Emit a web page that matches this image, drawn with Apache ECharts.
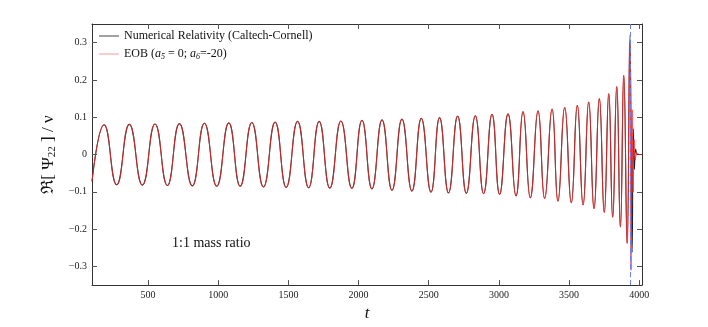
<!DOCTYPE html>
<html>
<head>
<meta charset="utf-8">
<script src="https://cdn.jsdelivr.net/npm/echarts@6/dist/echarts.min.js"></script>
<style>
  html, body { margin: 0; padding: 0; background: #fff; }
  #chart { width: 708px; height: 327px; }
</style>
</head>
<body>
<div id="chart"></div>
<script>
// inspiral part, both curves lie on top of each other here (peaks / troughs)
var inspiralT = [100, 186, 276, 366, 459, 549, 637, 723, 815, 901, 989, 1075, 1156, 1239, 1322, 1405, 1484, 1565, 1644, 1719,
    1795, 1874, 1952, 2024, 2095, 2167, 2238, 2309, 2380, 2447, 2516, 2577, 2641, 2706, 2768, 2832, 2891, 2951, 3005, 3065,
    3122, 3172, 3224, 3279, 3326, 3379, 3421, 3469, 3516, 3559, 3600, 3640, 3678, 3716, 3751, 3783, 3811, 3840, 3866];
var inspiralV = [-0.072, 0.080, -0.081, 0.081, -0.082, 0.082, -0.083, 0.083, -0.084, 0.084, -0.085, 0.085, -0.085, 0.086, -0.087, 0.087, -0.088, 0.089, -0.089, 0.089,
    -0.090, 0.090, -0.091, 0.092, -0.092, 0.093, -0.096, 0.095, -0.098, 0.097, -0.101, 0.099, -0.103, 0.103, -0.104, 0.104, -0.105, 0.108, -0.107, 0.109,
    -0.111, 0.115, -0.116, 0.117, -0.118, 0.122, -0.125, 0.126, -0.129, 0.132, -0.135, 0.141, -0.145, 0.150, -0.155, 0.163, -0.168, 0.182, -0.194];

// merger + ringdown
var nrMergerT = [3890, 3914, 3934, 3950, 3958, 3966, 3975, 3988, 4020];
var nrMergerV = [0.212, -0.238, 0.320, -0.262, 0.070, -0.040, 0.015, 0, 0];
var eobMergerT = [3890, 3914, 3932, 3942, 3950, 3957, 3964, 3972, 3985, 4000, 4020];
var eobMergerV = [0.212, -0.238, 0.300, -0.310, 0.120, -0.100, 0.040, -0.015, 0.005, 0, 0];

var peakTime = 3938;   // blue dashed line
var xTicks = [500, 1000, 1500, 2000, 2500, 3000, 3500, 4000];
var yTicks = [-0.3, -0.2, -0.1, 0, 0.1, 0.2, 0.3];

function makePairs(t1, v1, t2, v2) {
    var out = [];
    for (var i = 0; i < t1.length; i++) out.push([t1[i], v1[i]]);
    for (var j = 0; j < t2.length; j++) out.push([t2[j], v2[j]]);
    return out;
}

var serif = "'Liberation Serif', 'DejaVu Serif', serif";
var axisCol = '#333';

var myChart = echarts.init(document.getElementById('chart'));

function xAx(pos, showLabel) {
    return {
        type: 'value', position: pos, min: 100, max: 4020,
        axisLine: {show: true, onZero: false, lineStyle: {color: axisCol, width: 1}},
        axisTick: {show: true, inside: true, length: 5, customValues: xTicks, lineStyle: {color: '#555'}},
        axisLabel: {show: showLabel, customValues: xTicks, fontFamily: serif, fontSize: 10, color: '#222', margin: 5,
            formatter: function (v) { return '' + v; }},
        splitLine: {show: false},
        name: showLabel ? 't' : '', nameLocation: 'middle', nameGap: 18,
        nameTextStyle: {fontFamily: serif, fontStyle: 'italic', fontSize: 17, color: '#111'}
    };
}

function yAx(pos, showLabel) {
    return {
        type: 'value', position: pos, min: -0.35, max: 0.35,
        axisLine: {show: true, onZero: false, lineStyle: {color: axisCol, width: 1}},
        axisTick: {show: true, inside: true, length: 5, customValues: yTicks, lineStyle: {color: '#555'}},
        axisLabel: {show: showLabel, customValues: yTicks, fontFamily: serif, fontSize: 10, color: '#222', margin: 5,
            formatter: function (v) { return v < 0 ? '\u2212' + (-v) : '' + v; }},
        splitLine: {show: false},
        name: showLabel ? '{r|\u211C[ \u03A8}{s|22}{r| ] / \u03BD}' : '', nameLocation: 'middle', nameGap: 28, nameRotate: 90,
        nameTextStyle: {fontFamily: serif, fontSize: 17, color: '#111',
            rich: {
                r: {fontFamily: serif, fontSize: 17, color: '#111'},
                s: {fontFamily: serif, fontSize: 11, color: '#111', verticalAlign: 'bottom', padding: [8, 0, 0, 0]}
            }}
    };
}

var option = {
    animation: false,
    backgroundColor: '#fff',
    grid: {left: 92, right: 66, top: 24, bottom: 36},
    xAxis: [xAx('bottom', true), xAx('top', false)],
    yAxis: [yAx('left', true), yAx('right', false)],
    legend: {
        orient: 'vertical', left: 99, top: 30, itemGap: 6, padding: 0,
        itemWidth: 20, itemHeight: 1, icon: 'rect',
        textStyle: {fontFamily: serif, fontSize: 12, color: '#111',
            rich: {
                i: {fontFamily: serif, fontStyle: 'italic', fontSize: 12, color: '#111'},
                s: {fontFamily: serif, fontStyle: 'italic', fontSize: 8, color: '#111', verticalAlign: 'bottom', padding: [6, 0, 0, 0]}
            }},
        formatter: function (name) {
            if (name === 'EOB') return 'EOB ({i|a}{s|5} = 0; {i|a}{s|6}=-20)';
            return name;
        },
        data: ['Numerical Relativity (Caltech-Cornell)', 'EOB']
    },
    graphic: [{
        type: 'text', left: 172, top: 236,
        style: {text: '1:1 mass ratio', font: '14px ' + serif, fill: '#111'}
    }],
    series: [{
        name: 'Numerical Relativity (Caltech-Cornell)',
        type: 'line',
        data: makePairs(inspiralT, inspiralV, nrMergerT, nrMergerV),
        showSymbol: false, smooth: 0.5,
        color: '#444',
        lineStyle: {color: '#222', width: 1.1},
        z: 2
    }, {
        name: 'EOB',
        type: 'line',
        data: makePairs(inspiralT, inspiralV, eobMergerT, eobMergerV),
        showSymbol: false, smooth: 0.5,
        color: '#f39a9a',
        lineStyle: {color: '#ff2a2a', width: 1, opacity: 0.8},
        z: 3,
        markLine: {
            silent: true, symbol: 'none',
            label: {show: false},
            lineStyle: {color: '#6b7cff', type: [5, 3], width: 1},
            data: [{xAxis: peakTime}]
        }
    }]
};

myChart.setOption(option);
</script>
</body>
</html>
